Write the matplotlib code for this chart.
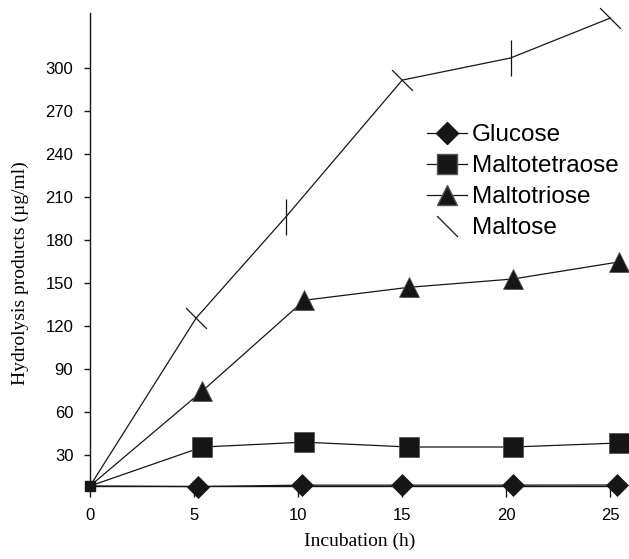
import matplotlib
matplotlib.use('Agg')
import matplotlib.pyplot as plt
from matplotlib.path import Path
from matplotlib.lines import Line2D

# data (x slightly offset from the nominal hours, as plotted)
x_glucose = [0, 5.2, 10.2, 15.0, 20.3, 25.3]
glucose = [8.4, 8.0, 9.0, 9.0, 9.0, 9.1]

x_tetra = [0, 5.4, 10.3, 15.3, 20.3, 25.4]
maltotetraose = [8.4, 35.6, 39.0, 35.6, 35.6, 38.4]

x_tri = [0, 5.4, 10.3, 15.3, 20.3, 25.4]
maltotriose = [8.4, 74.7, 138.0, 147.0, 152.8, 164.7]

x_maltose = [0, 5.1, 9.4, 15.0, 20.2, 25.0]
maltose = [8.4, 125.6, 196.0, 291.6, 307.0, 334.9]

xticks = [0, 5, 10, 15, 20, 25]
yticks = [30, 60, 90, 120, 150, 180, 210, 240, 270, 300]

labels = ['Glucose', 'Maltotetraose', 'Maltotriose', 'Maltose']

sans = 'Liberation Sans'
serif = 'Liberation Serif'
ink = '#161616'
lw = 0.9

diag = Path([(-1, 1), (1, -1)], [Path.MOVETO, Path.LINETO])

fig = plt.figure(figsize=(6.29, 5.59), dpi=100)
ax = fig.add_axes([90/629, 73/559, 535/629, 473/559])

ax.plot(x_glucose, glucose, color=ink, lw=lw, marker='D', ms=10.7, mfc=ink,
        mec=ink, mew=0.5, markevery=list(range(1, 6)), clip_on=False, zorder=3)
ax.plot(x_tetra, maltotetraose, color=ink, lw=lw, marker='s', ms=15, mfc=ink,
        mec='#555555', mew=0.6, markevery=list(range(1, 6)), clip_on=False, zorder=3)
ax.plot(x_tri, maltotriose, color=ink, lw=lw, marker='^', ms=15, mfc=ink,
        mec='#555555', mew=0.6, markevery=list(range(1, 6)), clip_on=False, zorder=3)
ax.plot(x_maltose, maltose, color=ink, lw=lw, clip_on=False, zorder=3)
# maltose markers: slanted bars, vertical bars at 10 and 20 h
for i in range(1, 6):
    m = '|' if i in (2, 4) else diag
    s = 26 if i in (2, 4) else 15
    ax.plot(x_maltose[i], maltose[i], ls='none', marker=m, ms=s, mec=ink,
            mew=lw, clip_on=False, zorder=3)
# small square at the common origin
ax.plot(x_glucose[:1], glucose[:1], ls='none', marker='s', ms=6.5, mfc=ink,
        mec=ink, clip_on=False, zorder=4)

ax.set_xlim(0, 25.7)
ax.set_ylim(8.4, 338.4)
ax.set_xticks(xticks)
ax.set_yticks(yticks)
ax.spines['top'].set_visible(False)
ax.spines['right'].set_visible(False)
for s in ('left', 'bottom'):
    ax.spines[s].set_linewidth(1.0)
    ax.spines[s].set_color(ink)
ax.tick_params(axis='x', direction='out', length=8, width=1.0, pad=8,
               labelsize=12, color=ink)
ax.tick_params(axis='y', direction='out', length=4, width=1.0, pad=8,
               labelsize=12, color=ink)
for t in ax.get_xticklabels() + ax.get_yticklabels():
    t.set_fontfamily(sans)

fig.text(360/629, 1 - 541/559, 'Incubation (h)', family=serif, fontsize=14,
         ha='center', va='center')
fig.text(20/629, 1 - 273/559, 'Hydrolysis products (\u00b5g/ml)', family=serif,
         fontsize=14, ha='center', va='center', rotation=90)

handles = [
    Line2D([], [], color=ink, lw=lw, marker='D', ms=10.7, mfc=ink, mec=ink),
    Line2D([], [], color=ink, lw=lw, marker='s', ms=15, mfc=ink, mec='#555555'),
    Line2D([], [], color=ink, lw=lw, marker='^', ms=15, mfc=ink, mec='#555555'),
    Line2D([], [], ls='none', marker=diag, ms=15, mec=ink, mew=lw),
]
fig.legend(handles, labels, loc='upper left', bbox_to_anchor=(427/629, 1 - 124/559),
           frameon=False, prop={'family': sans, 'size': 17.5}, borderpad=0,
           borderaxespad=0, handlelength=1.65, handletextpad=0.2,
           labelspacing=0.37)

fig.savefig('out.png', dpi=100)
